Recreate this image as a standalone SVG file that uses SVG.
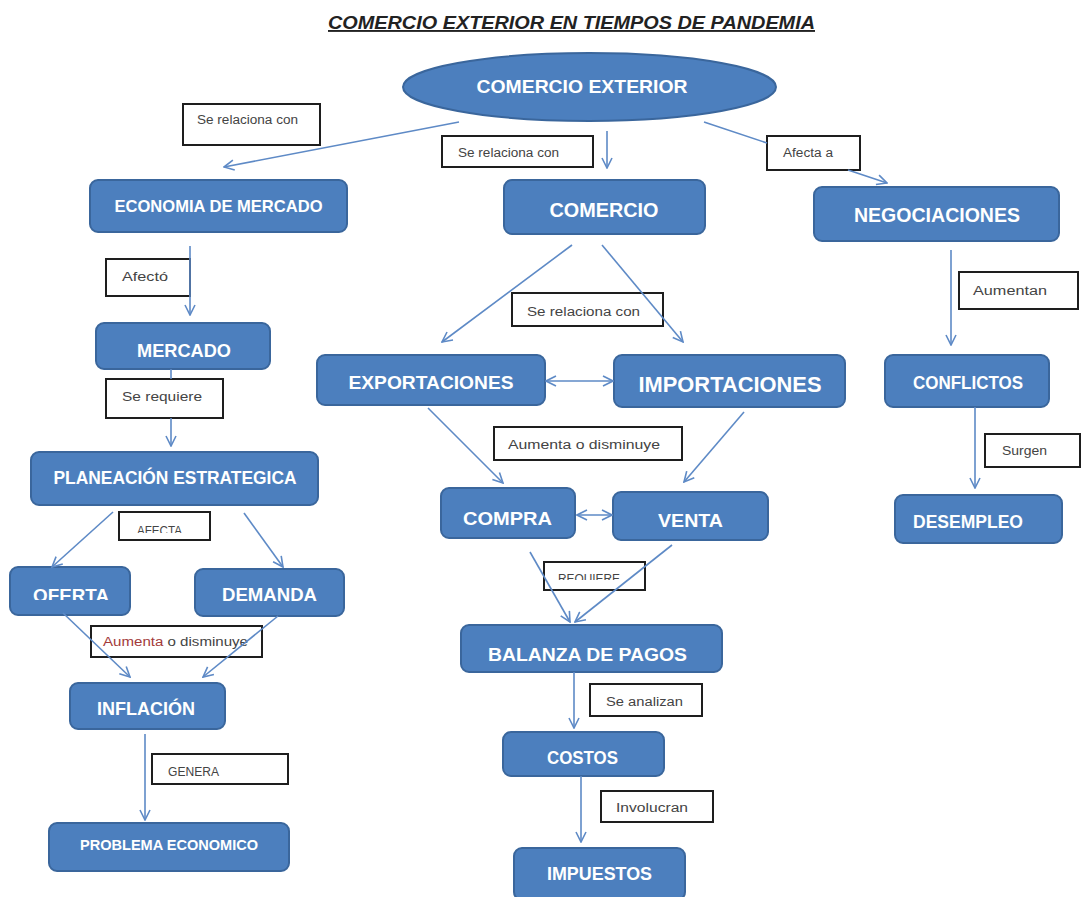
<svg xmlns="http://www.w3.org/2000/svg" width="1081" height="897" viewBox="0 0 1081 897">
<style>
.node{fill:#4C7FBE;stroke:#3A669C;stroke-width:2}
.nt{font-family:"Liberation Sans",Arial,sans-serif;font-weight:bold;fill:#ffffff;text-anchor:middle}
.lb{fill:#ffffff;stroke:#1e1e1e;stroke-width:2}
.lt{font-family:"Liberation Sans",Arial,sans-serif;font-size:12px;fill:#444444}
.c{stroke:#5E8AC6;stroke-width:1.6;fill:none}
.a{marker-end:url(#ah)}
.d{marker-start:url(#ah);marker-end:url(#ah)}
</style>
<defs>
<marker id="ah" viewBox="0 0 12 12" refX="11" refY="6" markerWidth="12" markerHeight="12" markerUnits="userSpaceOnUse" orient="auto-start-reverse">
<path d="M1,1 L11,6 L1,11" fill="none" stroke="#5E8AC6" stroke-width="1.6"/>
</marker>
<clipPath id="clipOferta"><rect x="0" y="560" width="140" height="40"/></clipPath>
<clipPath id="clipAfecta"><rect x="119" y="512" width="91" height="21"/></clipPath>
<clipPath id="clipReq"><rect x="544" y="562" width="101" height="18"/></clipPath>
</defs>
<rect width="1081" height="897" fill="#ffffff"/>
<text x="571.5" y="29" font-family="Liberation Sans,Arial,sans-serif" font-size="19" font-weight="bold" font-style="italic" text-decoration="underline" fill="#222222" text-anchor="middle" textLength="487" lengthAdjust="spacingAndGlyphs">COMERCIO EXTERIOR EN TIEMPOS DE PANDEMIA</text>

<g id="labels">
<g id="lbl-relaciona-1"><rect class="lb" x="183" y="104" width="137" height="41"/><text class="lt" x="197" y="124" textLength="101" lengthAdjust="spacingAndGlyphs">Se relaciona con</text></g>
<g id="lbl-relaciona-2"><rect class="lb" x="442" y="136" width="151" height="31"/><text class="lt" x="458" y="157" textLength="101" lengthAdjust="spacingAndGlyphs">Se relaciona con</text></g>
<g id="lbl-afecta-a"><rect class="lb" x="767" y="136" width="93" height="34"/><text class="lt" x="783" y="157" textLength="50" lengthAdjust="spacingAndGlyphs">Afecta a</text></g>
<g id="lbl-afecto"><rect class="lb" x="106" y="259" width="84" height="37"/><text class="lt" x="122" y="281" textLength="46" lengthAdjust="spacingAndGlyphs">Afectó</text></g>
<g id="lbl-requiere"><rect class="lb" x="106" y="379" width="117" height="39"/><text class="lt" x="122" y="401" textLength="80" lengthAdjust="spacingAndGlyphs">Se requiere</text></g>
<g id="lbl-relaciona-3"><rect class="lb" x="512" y="293" width="151" height="33"/><text class="lt" x="527" y="316" font-size="13" textLength="113" lengthAdjust="spacingAndGlyphs">Se relaciona con</text></g>
<g id="lbl-aumentan"><rect class="lb" x="959" y="272" width="119" height="37"/><text class="lt" x="973" y="295" font-size="13" textLength="74" lengthAdjust="spacingAndGlyphs">Aumentan</text></g>
<g id="lbl-aumenta-1"><rect class="lb" x="494" y="427" width="188" height="33"/><text class="lt" x="508" y="449" font-size="13" textLength="152" lengthAdjust="spacingAndGlyphs">Aumenta o disminuye</text></g>
<g id="lbl-surgen"><rect class="lb" x="985" y="434" width="95" height="33"/><text class="lt" x="1002" y="455" textLength="45" lengthAdjust="spacingAndGlyphs">Surgen</text></g>
<g id="lbl-afecta"><rect class="lb" x="119" y="512" width="91" height="28"/><text class="lt" x="137" y="535" font-size="10" clip-path="url(#clipAfecta)" textLength="45" lengthAdjust="spacingAndGlyphs">AFECTA</text></g>
<g id="lbl-requiere2"><rect class="lb" x="544" y="562" width="101" height="28"/><text class="lt" x="558" y="583" font-size="10" clip-path="url(#clipReq)" textLength="62" lengthAdjust="spacingAndGlyphs">REQUIERE</text></g>
<g id="lbl-aumenta-2"><rect class="lb" x="91" y="626" width="171" height="31"/><text class="lt" x="103" y="646" textLength="145" lengthAdjust="spacingAndGlyphs"><tspan fill="#A33A3A">Aumenta</tspan> o disminuye</text></g>
<g id="lbl-genera"><rect class="lb" x="152" y="754" width="136" height="30"/><text class="lt" x="168" y="776" font-size="11" textLength="51" lengthAdjust="spacingAndGlyphs">GENERA</text></g>
<g id="lbl-analizan"><rect class="lb" x="590" y="684" width="112" height="32"/><text class="lt" x="606" y="706" textLength="77" lengthAdjust="spacingAndGlyphs">Se analizan</text></g>
<g id="lbl-involucran"><rect class="lb" x="601" y="791" width="112" height="31"/><text class="lt" x="616" y="812" textLength="72" lengthAdjust="spacingAndGlyphs">Involucran</text></g>
</g>

<g id="n-comercio-exterior"><ellipse class="node" cx="589.5" cy="87" rx="186.5" ry="34"/><text class="nt" x="582" y="93" font-size="18" textLength="211" lengthAdjust="spacingAndGlyphs">COMERCIO EXTERIOR</text></g>
<g id="n-economia"><rect class="node" x="90" y="180" width="257" height="52" rx="8"/><text class="nt" x="218.5" y="212" font-size="17" textLength="208" lengthAdjust="spacingAndGlyphs">ECONOMIA DE MERCADO</text></g>
<g id="n-comercio"><rect class="node" x="504" y="180" width="201" height="54" rx="8"/><text class="nt" x="604" y="217" font-size="20" textLength="109" lengthAdjust="spacingAndGlyphs">COMERCIO</text></g>
<g id="n-negociaciones"><rect class="node" x="814" y="187" width="245" height="54" rx="8"/><text class="nt" x="937" y="222" font-size="20" textLength="166" lengthAdjust="spacingAndGlyphs">NEGOCIACIONES</text></g>
<g id="n-mercado"><rect class="node" x="96" y="323" width="174" height="46" rx="8"/><text class="nt" x="184" y="357" font-size="19" textLength="94" lengthAdjust="spacingAndGlyphs">MERCADO</text></g>
<g id="n-planeacion"><rect class="node" x="31" y="452" width="287" height="53" rx="8"/><text class="nt" x="175" y="484" font-size="19" textLength="243" lengthAdjust="spacingAndGlyphs">PLANEACIÓN ESTRATEGICA</text></g>
<g id="n-exportaciones"><rect class="node" x="317" y="355" width="228" height="50" rx="8"/><text class="nt" x="431" y="389" font-size="18" textLength="165" lengthAdjust="spacingAndGlyphs">EXPORTACIONES</text></g>
<g id="n-importaciones"><rect class="node" x="614" y="355" width="231" height="52" rx="8"/><text class="nt" x="730" y="392" font-size="22" textLength="183" lengthAdjust="spacingAndGlyphs">IMPORTACIONES</text></g>
<g id="n-conflictos"><rect class="node" x="885" y="355" width="164" height="52" rx="8"/><text class="nt" x="968" y="389" font-size="19" textLength="110" lengthAdjust="spacingAndGlyphs">CONFLICTOS</text></g>
<g id="n-desempleo"><rect class="node" x="895" y="495" width="167" height="48" rx="8"/><text class="nt" x="968" y="528" font-size="19" textLength="110" lengthAdjust="spacingAndGlyphs">DESEMPLEO</text></g>
<g id="n-compra"><rect class="node" x="441" y="488" width="134" height="50" rx="8"/><text class="nt" x="507.5" y="525" font-size="19" textLength="89" lengthAdjust="spacingAndGlyphs">COMPRA</text></g>
<g id="n-venta"><rect class="node" x="613" y="492" width="155" height="48" rx="8"/><text class="nt" x="690.5" y="527" font-size="19" textLength="65" lengthAdjust="spacingAndGlyphs">VENTA</text></g>
<g id="n-oferta"><rect class="node" x="10" y="567" width="120" height="48" rx="8"/><text class="nt" x="71" y="602" font-size="18" clip-path="url(#clipOferta)" textLength="76" lengthAdjust="spacingAndGlyphs">OFERTA</text></g>
<g id="n-demanda"><rect class="node" x="195" y="569" width="149" height="47" rx="8"/><text class="nt" x="269.5" y="601" font-size="18" textLength="95" lengthAdjust="spacingAndGlyphs">DEMANDA</text></g>
<g id="n-balanza"><rect class="node" x="461" y="625" width="261" height="47" rx="8"/><text class="nt" x="587.5" y="661" font-size="19" textLength="199" lengthAdjust="spacingAndGlyphs">BALANZA DE PAGOS</text></g>
<g id="n-costos"><rect class="node" x="503" y="732" width="161" height="44" rx="8"/><text class="nt" x="582.5" y="764" font-size="18" textLength="71" lengthAdjust="spacingAndGlyphs">COSTOS</text></g>
<g id="n-impuestos"><rect class="node" x="514" y="848" width="171" height="52" rx="8"/><text class="nt" x="599.5" y="880" font-size="19" textLength="105" lengthAdjust="spacingAndGlyphs">IMPUESTOS</text></g>
<g id="n-inflacion"><rect class="node" x="70" y="683" width="155" height="46" rx="8"/><text class="nt" x="146" y="715" font-size="19" textLength="98" lengthAdjust="spacingAndGlyphs">INFLACIÓN</text></g>
<g id="n-problema"><rect class="node" x="49" y="823" width="240" height="48" rx="8"/><text class="nt" x="169" y="850" font-size="14" textLength="178" lengthAdjust="spacingAndGlyphs">PROBLEMA ECONOMICO</text></g>

<g id="connectors">
<line class="c a" x1="459" y1="122" x2="224" y2="167"/>
<line class="c a" x1="607" y1="131" x2="607" y2="168"/>
<line class="c" x1="704" y1="122" x2="767" y2="143"/>
<line class="c a" x1="848" y1="170" x2="887" y2="183"/>
<line class="c a" x1="190" y1="246" x2="190" y2="315"/>
<line class="c" x1="171" y1="369" x2="171" y2="379"/>
<line class="c a" x1="171" y1="418" x2="171" y2="446"/>
<line class="c a" x1="113" y1="512" x2="52" y2="567"/>
<line class="c a" x1="244" y1="513" x2="283" y2="567"/>
<line class="c a" x1="63" y1="613" x2="130" y2="677"/>
<line class="c a" x1="278" y1="616" x2="203" y2="677"/>
<line class="c a" x1="145" y1="734" x2="145" y2="820"/>
<line class="c a" x1="572" y1="245" x2="442" y2="342"/>
<line class="c a" x1="602" y1="245" x2="683" y2="342"/>
<line class="c d" x1="546" y1="381" x2="613" y2="381"/>
<line class="c a" x1="428" y1="408" x2="503" y2="483"/>
<line class="c a" x1="744" y1="412" x2="684" y2="482"/>
<line class="c d" x1="577" y1="515" x2="612" y2="515"/>
<line class="c a" x1="530" y1="552" x2="570" y2="622"/>
<line class="c a" x1="672" y1="545" x2="575" y2="622"/>
<line class="c a" x1="574" y1="672" x2="574" y2="728"/>
<line class="c a" x1="581" y1="776" x2="581" y2="842"/>
<line class="c a" x1="951" y1="250" x2="951" y2="345"/>
<line class="c a" x1="975" y1="407" x2="975" y2="488"/>
</g>
</svg>
